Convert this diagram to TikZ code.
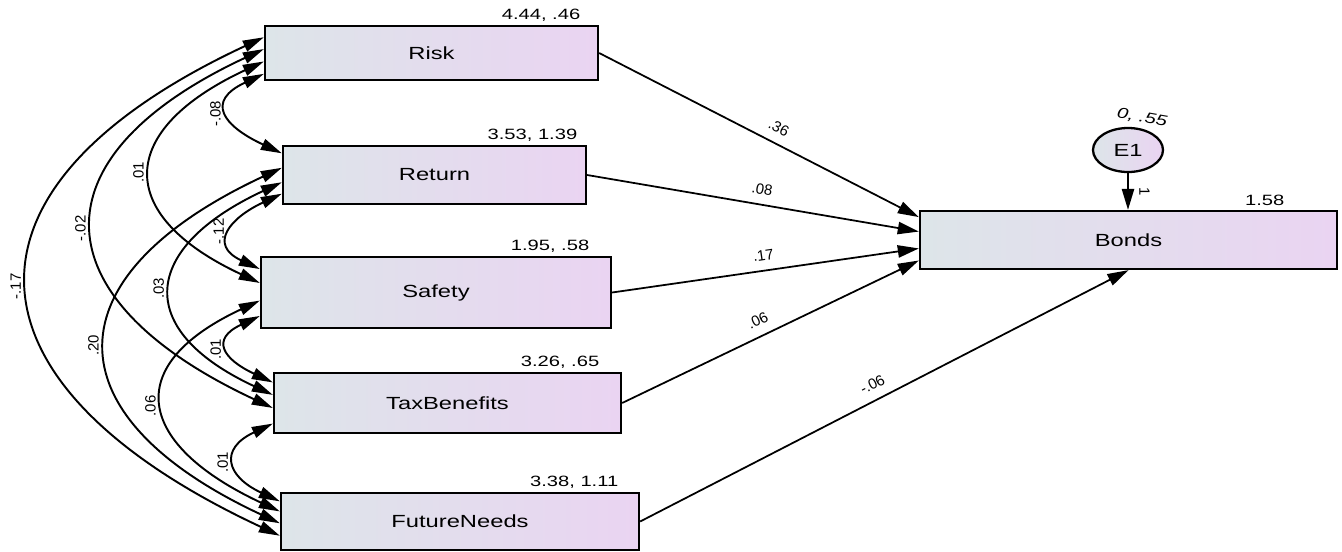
\documentclass[tikz,border=0pt]{standalone}
\usepackage{fontspec}
\setmainfont{Liberation Sans}
\usetikzlibrary{arrows.meta,shapes.geometric,positioning,calc}
\definecolor{boxleft}{RGB}{221,229,233}
\definecolor{boxright}{RGB}{234,212,242}
\newcommand{\wide}[1]{\scalebox{1.35}[1]{#1}}
\tikzstyle{var}=[rectangle,draw,line width=1.3pt,left color=boxleft,right color=boxright,font=\fontsize{10}{12}\selectfont,inner sep=0pt]
\tikzstyle{errvar}=[ellipse,draw,line width=1.3pt,left color=boxleft,right color=boxright,minimum width=1.4cm,minimum height=0.88cm,font=\fontsize{10}{12}\selectfont,inner sep=0pt]
\tikzstyle{effect}=[draw,line width=1pt,-{Triangle[length=12pt,width=7pt]}]
\tikzstyle{cov}=[draw,line width=1.1pt,{Triangle[length=12pt,width=6.5pt]}-{Triangle[length=12pt,width=6.5pt]}]
\tikzstyle{weight}=[font=\fontsize{8.5}{10}\selectfont]
\tikzstyle{covweight}=[font=\fontsize{8.5}{10}\selectfont,rotate=90,anchor=south,inner sep=4pt]
\tikzstyle{moment}=[font=\fontsize{8.5}{10}\selectfont,inner sep=2pt]

\begin{document}
\begin{tikzpicture}
    \useasboundingbox (0,0) rectangle (26.84,-11.02);
    % observed variables
    \foreach \pos/\name/\w/\h/\txt in {{(8.63,-1.06)/risk/6.66/1.08/Risk},
                                      {(8.69,-3.50)/return/6.06/1.16/Return},
                                      {(8.72,-5.85)/safety/7.00/1.42/Safety},
                                      {(8.95,-8.06)/taxbenefits/6.94/1.20/TaxBenefits},
                                      {(9.20,-10.43)/futureneeds/7.16/1.14/FutureNeeds},
                                      {(22.57,-4.80)/bonds/8.34/1.16/Bonds}}
        \node[var, minimum width=\w cm, minimum height=\h cm] (\name) at \pos {\wide{\txt}};
    % means and variances
    \foreach \name/\dx/\m in {risk/0.30/{4.44, .46}, return/0.12/{3.53, 1.39},
                              safety/0.38/{1.95, .58}, taxbenefits/0.38/{3.26, .65},
                              futureneeds/0.36/{3.38, 1.11}, bonds/1.00/{1.58}}
        \node[moment, above left=0pt and \dx cm of \name.north east] {\wide{\m}};

    % error term
    \node[errvar] (e1) at (22.56,-3.00) {\wide{E1}};
    \node[moment, rotate=-10] (e1var) at (22.84,-2.36) {\wide{\itshape 0, .55}};
    \draw[effect] (e1.south) -- node[weight, anchor=south, rotate=-90, inner sep=6pt] {1} (e1.south |- bonds.north);

    % regression weights
    \foreach \src/\f/\p/\lab in {risk/.12/.54/.36, return/.36/.52/.08,
                                 safety/.64/.50/.17, taxbenefits/.84/.48/.06}
        \path[effect] (\src.east) -- node[weight, pos=\p, sloped, above=2pt] {\lab} ($(bonds.north west)!\f!(bonds.south west)$);
    \path[effect] (futureneeds.east) -- node[weight, pos=.49, sloped, above=2pt] {-.06} (bonds.south);

    % covariances
    \foreach \a/\fa/\b/\fb/\d/\lab in {risk/.87/return/.14/1.30/-.08,
                                       risk/.65/safety/.37/3.24/.01,
                                       risk/.43/taxbenefits/.58/5.14/-.02,
                                       risk/.22/futureneeds/.74/7.15/-.17,
                                       return/.81/safety/.18/1.15/-.12,
                                       return/.62/taxbenefits/.37/3.10/.03,
                                       return/.38/futureneeds/.53/5.12/.20,
                                       safety/.82/taxbenefits/.17/1.10/.01,
                                       safety/.61/futureneeds/.33/3.12/.06,
                                       taxbenefits/.83/futureneeds/.16/1.19/.01}
        \path[cov] ($(\a.north west)!\fa!(\a.south west)$) to[out=205, in=155, distance=\d cm]
            node[covweight] {\lab} ($(\b.north west)!\fb!(\b.south west)$);
\end{tikzpicture}
\end{document}
